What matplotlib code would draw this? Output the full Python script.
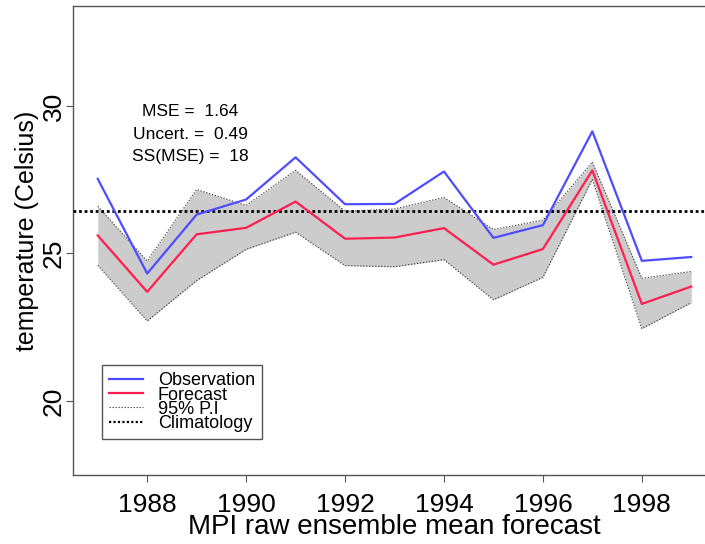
import matplotlib
matplotlib.use("Agg")
import matplotlib.pyplot as plt
from matplotlib.lines import Line2D

years = [1987, 1988, 1989, 1990, 1991, 1992, 1993, 1994, 1995, 1996, 1997, 1998, 1999]
observation = [27.53, 24.32, 26.32, 26.83, 28.26, 26.67, 26.68, 27.78, 25.53, 25.96, 29.14, 24.75, 24.88]
forecast = [25.61, 23.70, 25.65, 25.87, 26.76, 25.50, 25.54, 25.86, 24.62, 25.15, 27.82, 23.29, 23.88]
pi_upper = [26.60, 24.74, 27.17, 26.63, 27.82, 26.43, 26.51, 26.90, 25.81, 26.13, 28.10, 24.16, 24.39]
pi_lower = [24.60, 22.71, 24.08, 25.14, 25.72, 24.59, 24.55, 24.79, 23.43, 24.19, 27.51, 22.45, 23.33]
climatology = 26.45
stats_text = ["MSE =  1.64", "Uncert. =  0.49", "SS(MSE) =  18"]
xticks = [1988, 1990, 1992, 1994, 1996, 1998]
yticks = [20, 25, 30]

plt.rcParams['font.family'] = ['Liberation Sans', 'DejaVu Sans']

W, H = 705, 544
fig = plt.figure(figsize=(W / 100, H / 100), dpi=100)
left, right, top, bottom = 73, 716, 6, 475
ax = fig.add_axes([left / W, (H - bottom) / H, (right - left) / W, (bottom - top) / H])

blue = '#4d4dff'
red = '#ff1f4f'

ax.fill_between(years, pi_lower, pi_upper, color='#cccccc', lw=0, zorder=1)
ax.plot(years, pi_upper, color='#444444', lw=0.8, ls=(0, (1.2, 1.5)), zorder=2)
ax.plot(years, pi_lower, color='#444444', lw=0.8, ls=(0, (1.2, 1.5)), zorder=2)
ax.axhline(climatology, color='black', lw=2.0, ls=(0, (1.0, 1.0)), zorder=3)
ax.plot(years, observation, color=blue, lw=1.6, zorder=4)
ax.plot(years, forecast, color=red, lw=1.6, zorder=4)

ax.set_xlim(1986.5, 1999.5)
ax.set_ylim(17.49, 33.39)
ax.set_xticks(xticks)
ax.set_yticks(yticks)
ax.set_xticklabels([str(v) for v in xticks])
ax.set_yticklabels([str(v) for v in yticks])
for s in ax.spines.values():
    s.set_color('#555555')
    s.set_linewidth(1.0)
ax.tick_params(axis='both', direction='out', length=5, width=0.8, color='#555555',
               labelsize=19, pad=8)
ax.tick_params(axis='y', labelrotation=90, pad=0)
for lab in ax.get_yticklabels():
    lab.set_va('center')

ax.set_xlabel('MPI raw ensemble mean forecast', fontsize=20)
ax.xaxis.set_label_coords(0.5, -0.083)
ax.set_ylabel('temperature (Celsius)', fontsize=18)
ax.yaxis.set_label_coords(-0.053, 0.52)

for i, (t, yv) in enumerate(zip(stats_text, [29.82, 29.04, 28.30])):
    ax.text(1988.87, yv, t, ha='center', va='center', fontsize=12.5)

handles = [
    Line2D([], [], color=blue, lw=1.6),
    Line2D([], [], color=red, lw=1.6),
    Line2D([], [], color='#444444', lw=0.8, ls=(0, (1.2, 1.5))),
    Line2D([], [], color='black', lw=1.6, ls=(0, (1.0, 1.0))),
]
labels = ['Observation', 'Forecast', '95% P.I', 'Climatology']
leg = ax.legend(handles, labels, loc='upper left',
                bbox_to_anchor=((101.7 - left) / (right - left), (bottom - 365) / (bottom - top)),
                fontsize=13, frameon=True, fancybox=False, framealpha=1,
                edgecolor='#555555', handlelength=1.9, handletextpad=0.8,
                labelspacing=-0.15, borderpad=0.4, borderaxespad=0)
leg.get_frame().set_linewidth(1.0)

fig.savefig('out.png', dpi=100)
